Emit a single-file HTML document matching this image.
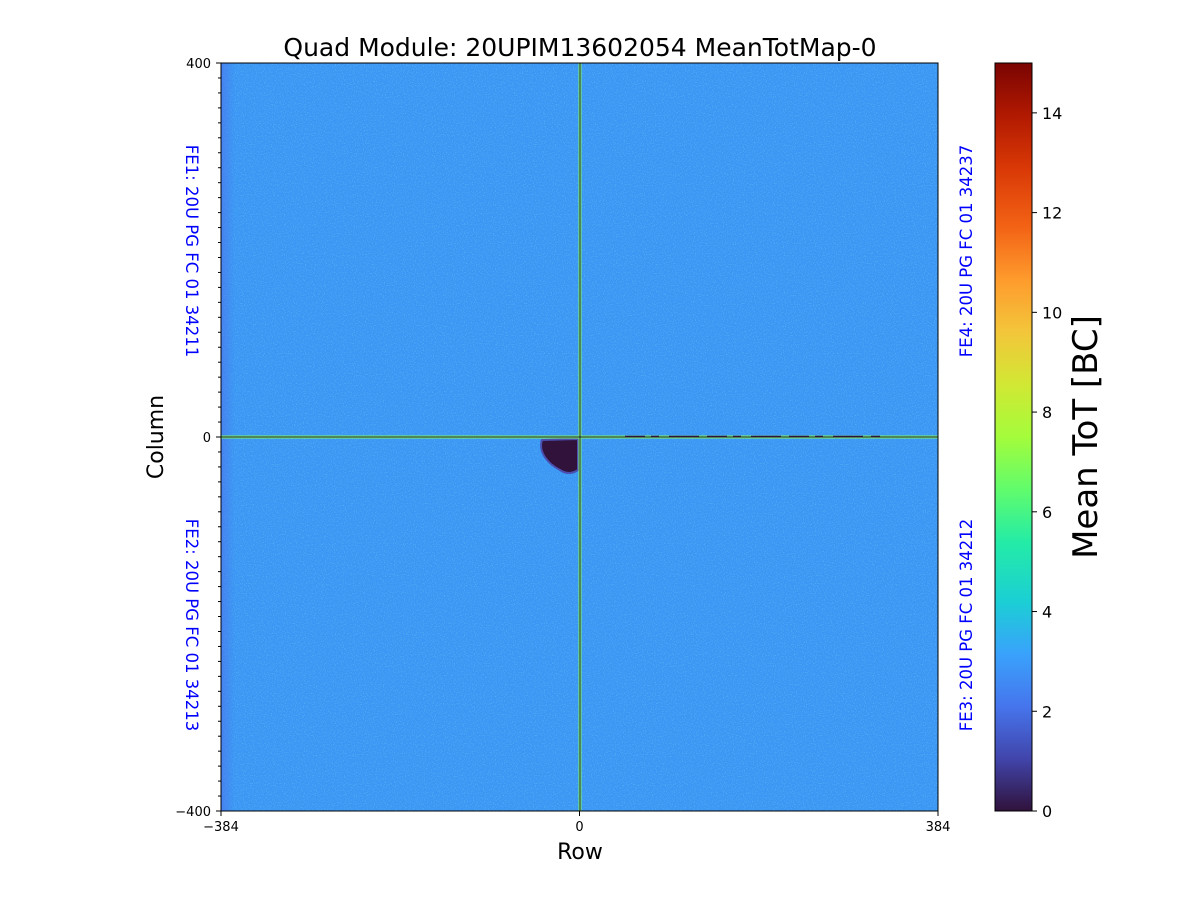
<!DOCTYPE html>
<html><head><meta charset="utf-8"><style>
body{margin:0;background:#fff;width:1200px;height:900px;overflow:hidden;font-family:"Liberation Sans","DejaVu Sans",sans-serif}
</style></head><body>
<svg id="chart" width="1200" height="900" xmlns="http://www.w3.org/2000/svg" font-family="DejaVu Sans, Liberation Sans, sans-serif">
<defs>
<linearGradient id="turbo" x1="0" y1="1" x2="0" y2="0">
<stop offset="0" stop-color="#30123b"/><stop offset="0.07" stop-color="#4145ab"/><stop offset="0.14" stop-color="#4675ed"/>
<stop offset="0.21" stop-color="#39a2fc"/><stop offset="0.28" stop-color="#1bcfd4"/><stop offset="0.36" stop-color="#24eca6"/>
<stop offset="0.43" stop-color="#61fc6c"/><stop offset="0.5" stop-color="#a4fc3b"/><stop offset="0.57" stop-color="#d1e834"/>
<stop offset="0.64" stop-color="#f3c63a"/><stop offset="0.71" stop-color="#fe9b2d"/><stop offset="0.78" stop-color="#f36315"/>
<stop offset="0.86" stop-color="#d93806"/><stop offset="0.93" stop-color="#b11901"/><stop offset="1" stop-color="#7a0402"/>
</linearGradient>
<filter id="noise" x="0" y="0" width="100%" height="100%">
<feTurbulence type="fractalNoise" baseFrequency="0.9" numOctaves="1" seed="3"/>
<feColorMatrix values="0 0 0 0 0.2  0 0 0 0 0.78  0 0 0 0 0.9  0 0 0 2 -1.0"/>
</filter>
<linearGradient id="leftfade" x1="0" x2="1"><stop offset="0" stop-color="#4a78ee" stop-opacity="0.7"/><stop offset="1" stop-color="#4a78ee" stop-opacity="0"/></linearGradient>
</defs>
<text x="580" y="56" text-anchor="middle" font-size="25">Quad Module: 20UPIM13602054 MeanTotMap-0</text>
<g id="plot">
<rect x="221" y="63" width="717" height="748" fill="#3b96f4"/>
<rect x="221" y="63" width="717" height="748" filter="url(#noise)" opacity="0.6"/>
<rect x="221" y="63" width="14" height="748" fill="url(#leftfade)"/>
<path d="M542 440 L578 439 L578 470 C572 474 566 474 560 470 C548 464 538 452 542 440 Z" fill="#30123b" stroke="#4a4fb0" stroke-width="2"/>
<rect x="578.5" y="63" width="3" height="748" fill="#7ef06a"/>
<rect x="221" y="435.5" width="717" height="3" fill="#7ef06a"/>
<line x1="580" y1="63" x2="580" y2="811" stroke="#1c2040" stroke-width="1"/>
<line x1="221" y1="437" x2="938" y2="437" stroke="#1c2040" stroke-width="1"/>
<line x1="625" y1="436.5" x2="880" y2="436.5" stroke="#30123b" stroke-width="1.5" stroke-dasharray="20 6 8 10 30 8"/>
<rect x="221" y="63" width="717" height="748" fill="none" stroke="#000" stroke-width="1"/>
</g>
<g id="axes"></g>
<text x="580" y="859" text-anchor="middle" font-size="22">Row</text>
<text transform="translate(163,437) rotate(-90)" text-anchor="middle" font-size="22">Column</text>
<g fill="#0000ff" font-size="16.5" text-anchor="middle">
<text transform="translate(186,251) rotate(90)">FE1: 20U PG FC 01 34211</text>
<text transform="translate(186,625) rotate(90)">FE2: 20U PG FC 01 34213</text>
<text transform="translate(972,251) rotate(-90)">FE4: 20U PG FC 01 34237</text>
<text transform="translate(972,625) rotate(-90)">FE3: 20U PG FC 01 34212</text>
</g>
<rect x="995" y="63" width="37" height="748" fill="url(#turbo)" stroke="#000" stroke-width="1"/>
<g id="cbar"></g>
<text transform="translate(1097,437) rotate(-90)" text-anchor="middle" font-size="34">Mean ToT [BC]</text>
</svg>
<script>
const xTicks=[-384,0,384];
const yTicks=[-400,0,400];
const cbarTicks=[0,2,4,6,8,10,12,14];
const cbarMax=15;
const ns="http://www.w3.org/2000/svg";
const xs=v=>221+(v+384)/768*717;
const ys=v=>811-(v+400)/800*748;
const cs=v=>811-v/cbarMax*748;
function mk(t,a,p){const e=document.createElementNS(ns,t);for(const k in a)e.setAttribute(k,a[k]);p.appendChild(e);return e;}
const ax=document.getElementById('axes');
xTicks.forEach(v=>{
 const l=mk('line',{x1:xs(v),x2:xs(v),y1:811,y2:816,stroke:'#000'},ax);
 
 
 const t=mk('text',{x:xs(v),y:831,'text-anchor':'middle','font-size':13},ax);t.textContent=v<0?'\u2212'+(-v):v;
 
 
});
for(let v=-400;v<=400;v+=16){
 const l=mk('line',{x1:218,x2:221,y1:ys(v),y2:ys(v),stroke:'#000'},ax);
 
 
}
yTicks.forEach(v=>{
 const l=mk('line',{x1:216,x2:221,y1:ys(v),y2:ys(v),stroke:'#000'},ax);
 
 
 const t=mk('text',{x:211,y:ys(v)+5,'text-anchor':'end','font-size':13},ax);t.textContent=v<0?'\u2212'+(-v):v;
 
 
});
const cb=document.getElementById('cbar');
cbarTicks.forEach(v=>{
 const l=mk('line',{x1:1032,x2:1037,y1:cs(v),y2:cs(v),stroke:'#000'},cb);
 
 
 const t=mk('text',{x:1042,y:cs(v)+6,'font-size':16},cb);t.textContent=v;
 
 
});
</script>
</body></html>
